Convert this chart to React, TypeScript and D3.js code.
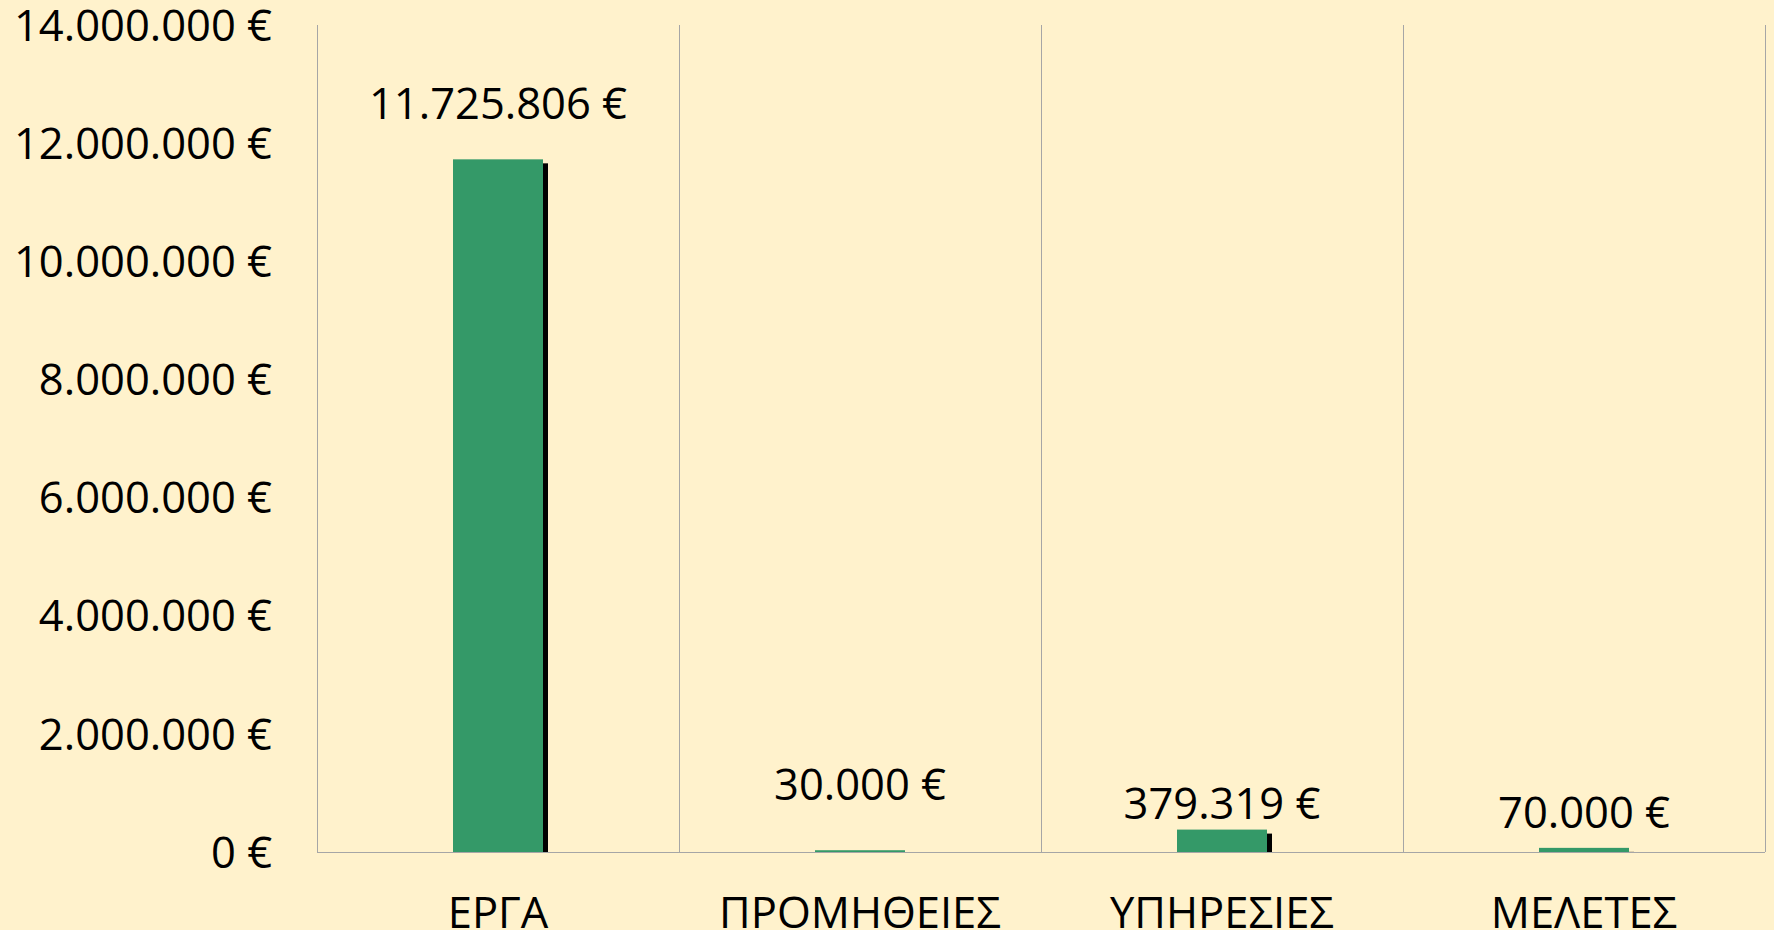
import React, { useEffect, useRef } from 'react';
import * as d3 from 'd3';

const categories = ['ΕΡΓΑ', 'ΠΡΟΜΗΘΕΙΕΣ', 'ΥΠΗΡΕΣΙΕΣ', 'ΜΕΛΕΤΕΣ'];
const amounts = [11725806, 30000, 379319, 70000];
const yTicks = [0, 2000000, 4000000, 6000000, 8000000, 10000000, 12000000, 14000000];

// labels were placed by hand in the original, so lift each one a bit differently
const labelLift = [56, 66, 26, 36];

const fmt = (v: number) => d3.format(',')(v).replace(/,/g, '.') + ' €';

const App: React.FC = () => {
  const svgRef = useRef<SVGSVGElement>(null);

  useEffect(() => {
    if (!svgRef.current) return;

    const width = 1774;
    const height = 930;
    const margin = { top: 25, right: 9, bottom: 78, left: 317 };
    const font = '"Open Sans", "Noto Sans", sans-serif';
    const fs = 43.5;

    const svg = d3.select(svgRef.current)
      .attr('width', width)
      .attr('height', height);

    svg.selectAll('*').remove();

    svg.append('rect')
      .attr('width', width)
      .attr('height', height)
      .attr('fill', '#fff2cc');

    const x = d3.scaleBand<string>()
      .domain(categories)
      .range([margin.left, width - margin.right]);

    const y = d3.scaleLinear()
      .domain([0, 14000000])
      .range([height - margin.bottom, margin.top]);

    const base = y(0);
    const barW = 90;

    // vertical separators
    const edges = categories.map(c => x(c)!).concat([x.range()[1]]);
    svg.selectAll('.sep')
      .data(edges)
      .enter()
      .append('line')
      .attr('x1', d => d + 0.5)
      .attr('x2', d => d + 0.5)
      .attr('y1', margin.top)
      .attr('y2', base)
      .attr('stroke', '#a6a6a6')
      .attr('stroke-width', 1);

    // y tick labels
    svg.selectAll('.ytick')
      .data(yTicks)
      .enter()
      .append('text')
      .attr('x', 272)
      .attr('y', d => y(d))
      .attr('dy', '0.36em')
      .attr('text-anchor', 'end')
      .attr('font-family', font)
      .attr('font-size', fs)
      .attr('fill', '#000')
      .text(d => fmt(d));

    const data = categories.map((c, i) => ({ c, v: amounts[i], lift: labelLift[i] }));

    // shadow
    svg.selectAll('.shadow')
      .data(data)
      .enter()
      .append('rect')
      .attr('x', d => x(d.c)! + x.bandwidth() / 2 - barW / 2 + 5)
      .attr('y', d => Math.min(y(d.v) + 4, base))
      .attr('width', barW)
      .attr('height', d => Math.max(0, base - y(d.v) - 4))
      .attr('fill', '#000');

    svg.selectAll('.bar')
      .data(data)
      .enter()
      .append('rect')
      .attr('x', d => x(d.c)! + x.bandwidth() / 2 - barW / 2)
      .attr('y', d => y(d.v))
      .attr('width', barW)
      .attr('height', d => base - y(d.v))
      .attr('fill', '#349968');

    // baseline
    svg.append('line')
      .attr('x1', margin.left)
      .attr('x2', width - margin.right)
      .attr('y1', base + 0.5)
      .attr('y2', base + 0.5)
      .attr('stroke', '#a6a6a6')
      .attr('stroke-width', 1);

    // value labels
    svg.selectAll('.val')
      .data(data)
      .enter()
      .append('text')
      .attr('x', d => x(d.c)! + x.bandwidth() / 2)
      .attr('y', d => y(d.v) - d.lift)
      .attr('dy', '0.36em')
      .attr('text-anchor', 'middle')
      .attr('font-family', font)
      .attr('font-size', fs)
      .attr('fill', '#000')
      .text(d => fmt(d.v));

    // category labels
    svg.selectAll('.cat')
      .data(categories)
      .enter()
      .append('text')
      .attr('x', d => x(d)! + x.bandwidth() / 2)
      .attr('y', 912)
      .attr('dy', '0.36em')
      .attr('text-anchor', 'middle')
      .attr('font-family', font)
      .attr('font-size', fs)
      .attr('fill', '#000')
      .text(d => d);
  }, []);

  return (
    <div style={{ position: 'absolute', left: 0, top: 0 }}>
      <svg ref={svgRef} style={{ display: 'block' }} />
    </div>
  );
};

export default App;
